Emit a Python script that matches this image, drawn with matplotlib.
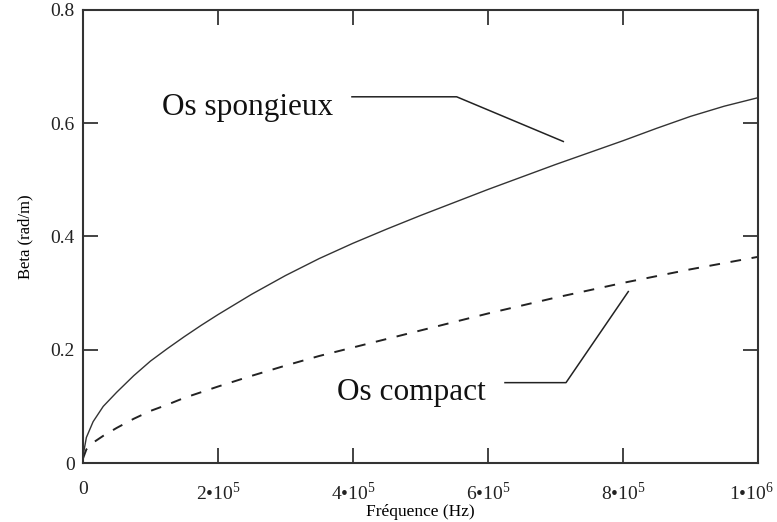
import matplotlib
matplotlib.use('Agg')
import matplotlib.pyplot as plt
from matplotlib.transforms import ScaledTranslation

plt.rcParams['font.family'] = ['Liberation Serif', 'DejaVu Serif']
plt.rcParams['mathtext.fontset'] = 'custom'
plt.rcParams['mathtext.rm'] = 'Liberation Serif'

# courbes (Hz, rad/m)
freq_spong = [0, 5000, 15000, 30000, 50000, 75000, 100000, 125000, 150000, 175000,
              200000, 250000, 300000, 350000, 400000, 450000, 500000, 550000, 600000,
              650000, 700000, 750000, 800000, 850000, 900000, 950000, 1000000]
beta_spong = [0.012, 0.045, 0.073, 0.100, 0.125, 0.154, 0.180, 0.202, 0.223, 0.243,
              0.262, 0.298, 0.331, 0.361, 0.388, 0.413, 0.437, 0.460, 0.483,
              0.505, 0.527, 0.548, 0.569, 0.591, 0.612, 0.630, 0.645]

freq_comp = [0, 5000, 15000, 30000, 50000, 75000, 100000, 125000, 150000, 175000,
             200000, 250000, 300000, 350000, 400000, 450000, 500000, 550000, 600000,
             650000, 700000, 750000, 800000, 850000, 900000, 950000, 1000000]
beta_comp = [0.008, 0.024, 0.036, 0.048, 0.062, 0.078, 0.092, 0.103, 0.115, 0.125,
             0.135, 0.154, 0.172, 0.189, 0.204, 0.219, 0.234, 0.249, 0.264,
             0.278, 0.292, 0.305, 0.318, 0.330, 0.342, 0.353, 0.364]

xticks = [0, 2e5, 4e5, 6e5, 8e5, 1e6]
xticklabels = ['0', r'2•10$^{5}$', r'4•10$^{5}$', r'6•10$^{5}$', r'8•10$^{5}$', r'1•10$^{6}$']
yticks = [0, 0.2, 0.4, 0.6, 0.8]
yticklabels = ['0', '0.2', '0.4', '0.6', '0.8']

fig = plt.figure(figsize=(7.77, 5.22), dpi=100)
ax = fig.add_axes([0.1068, 0.113, 0.8687, 0.868])

ax.plot(freq_spong, beta_spong, color='#333333', lw=1.0)
ax.plot(freq_comp, beta_comp, color='#222222', lw=1.4, dashes=(5.5, 5.5))

# étiquettes et traits de rappel
ax.text(117000, 0.615, 'Os spongieux', fontsize=22.5, va='baseline', ha='left', color='#111111')
ax.plot([398500, 553600, 711600], [0.6466, 0.6466, 0.5677], color='#222222', lw=1.1)
ax.text(377000, 0.111, 'Os compact', fontsize=22.5, va='baseline', ha='left', color='#111111')
ax.plot([625200, 715600, 807900], [0.1419, 0.1419, 0.3027], color='#222222', lw=1.1)

ax.set_xlim(0, 1e6)
ax.set_ylim(0, 0.8)
ax.set_xticks(xticks)
ax.set_xticklabels(xticklabels)
ax.set_yticks(yticks)
ax.set_yticklabels(yticklabels)
ax.tick_params(direction='in', length=11, width=1.2, top=True, right=True,
               labelsize=14, colors='#222222')
ax.tick_params(axis='x', pad=13)
ax.tick_params(axis='y', pad=6)
for s in ax.spines.values():
    s.set_linewidth(1.5)
    s.set_color('#333333')

# le dernier label touche le bord droit : on le décale un peu
last = ax.get_xticklabels()[-1]
last.set_transform(last.get_transform() + ScaledTranslation(-0.07, 0, fig.dpi_scale_trans))

ax.set_xlabel('Fréquence (Hz)', fontsize=12.5, labelpad=0)
ax.set_ylabel('Beta (rad/m)', fontsize=12, labelpad=12)

fig.savefig('out.png', dpi=100)
